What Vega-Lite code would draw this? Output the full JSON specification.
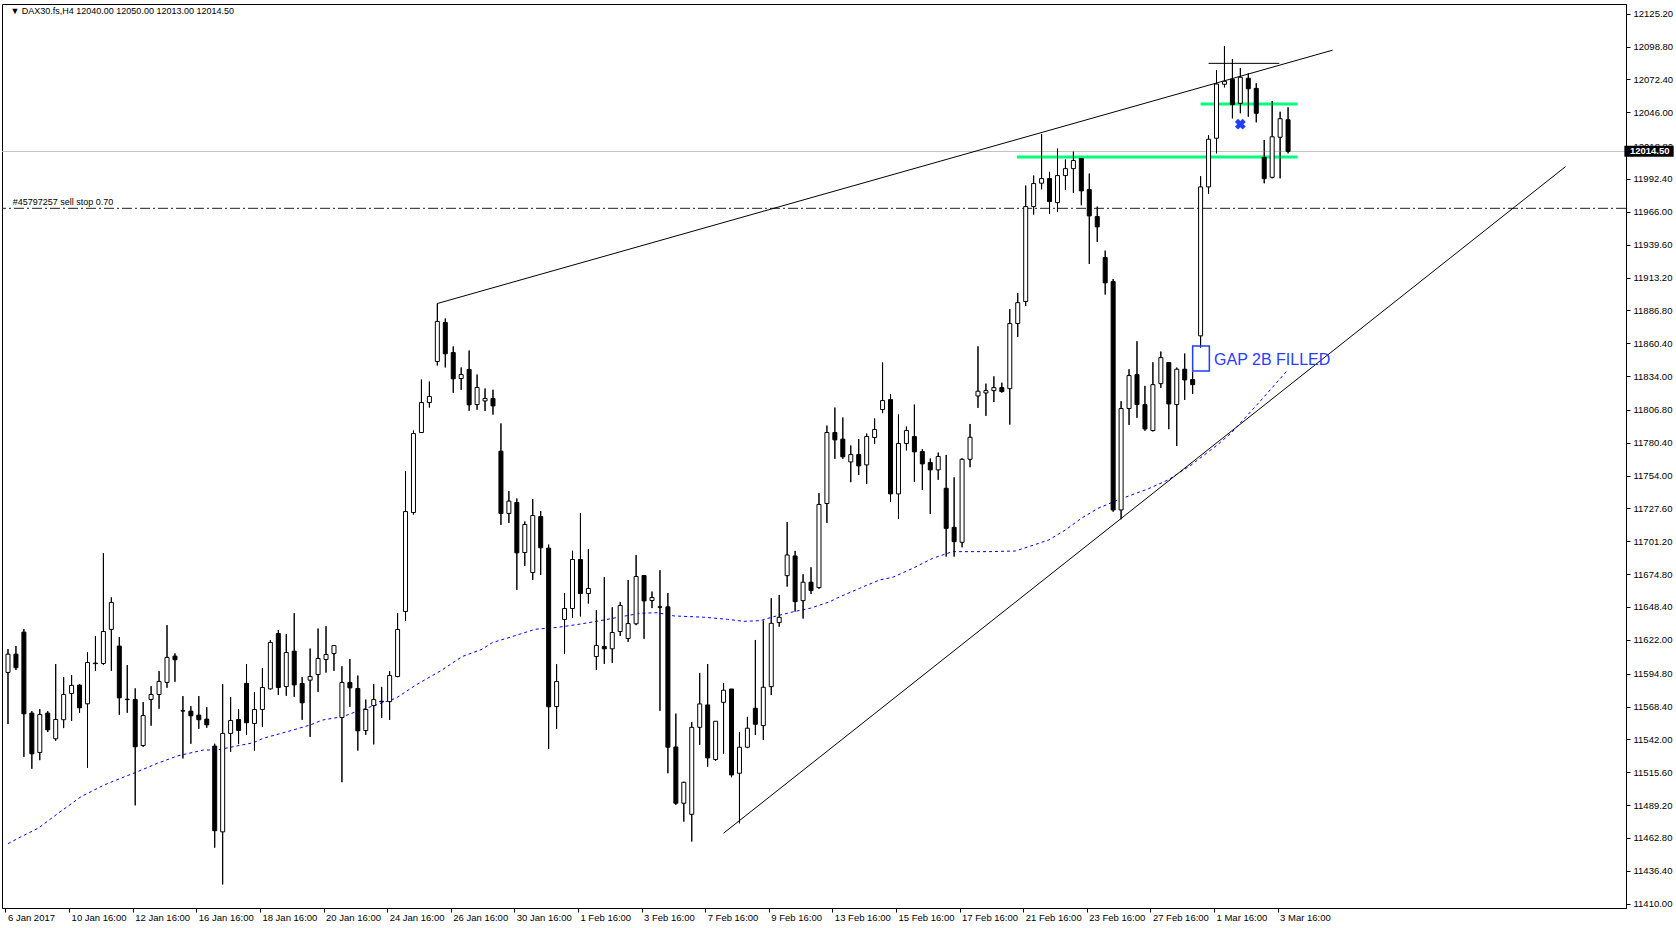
{
  "$schema": "https://vega.github.io/schema/vega-lite/v6.json",
  "width": 1624,
  "height": 904,
  "autosize": {"type": "none"},
  "padding": {"left": 2, "top": 4, "right": 50, "bottom": 20},
  "background": "#ffffff",
  "config": {
    "view": {"stroke": "#000000", "strokeWidth": 1},
    "axis": {"labelFont": "Liberation Sans", "labelFontSize": 9.5, "labelColor": "#000000", "domainColor": "#000000", "tickColor": "#000000", "grid": false, "labelOverlap": false, "labelBound": false}
  },
  "datasets": {
    "bars": [
      {"k":0,"o":11595.8,"h":11614.6,"l":11554.3,"c":11610.5},
      {"k":1,"o":11610.5,"h":11617.0,"l":11597.7,"c":11599.6},
      {"k":2,"o":11628.2,"h":11630.6,"l":11528.0,"c":11562.6},
      {"k":3,"o":11563.1,"h":11564.7,"l":11518.4,"c":11530.4},
      {"k":4,"o":11531.5,"h":11566.3,"l":11525.3,"c":11562.0},
      {"k":5,"o":11563.1,"h":11564.7,"l":11547.9,"c":11549.7},
      {"k":6,"o":11542.5,"h":11602.5,"l":11540.9,"c":11558.0},
      {"k":7,"o":11557.8,"h":11592.1,"l":11551.1,"c":11578.1},
      {"k":8,"o":11578.9,"h":11593.7,"l":11556.9,"c":11585.4},
      {"k":9,"o":11585.6,"h":11586.4,"l":11563.4,"c":11567.4},
      {"k":10,"o":11570.6,"h":11611.9,"l":11519.2,"c":11603.8},
      {"k":11,"o":11603.3,"h":11625.0,"l":11597.1,"c":11602.9},
      {"k":12,"o":11603.0,"h":11691.7,"l":11602.0,"c":11628.7},
      {"k":13,"o":11630.4,"h":11656.1,"l":11597.1,"c":11652.1},
      {"k":14,"o":11617.0,"h":11624.2,"l":11561.8,"c":11575.4},
      {"k":15,"o":11574.3,"h":11601.7,"l":11563.4,"c":11574.0},
      {"k":16,"o":11574.1,"h":11583.0,"l":11489.0,"c":11536.1},
      {"k":17,"o":11537.1,"h":11572.0,"l":11536.0,"c":11561.2},
      {"k":18,"o":11574.1,"h":11584.8,"l":11553.0,"c":11578.1},
      {"k":19,"o":11578.1,"h":11596.9,"l":11566.6,"c":11588.6},
      {"k":20,"o":11587.8,"h":11633.8,"l":11583.5,"c":11607.9},
      {"k":21,"o":11608.9,"h":11611.1,"l":11588.3,"c":11606.0},
      {"k":22,"o":11565.0,"h":11576.8,"l":11526.7,"c":11564.8},
      {"k":23,"o":11564.7,"h":11568.7,"l":11538.5,"c":11561.0},
      {"k":24,"o":11561.5,"h":11576.8,"l":11550.5,"c":11557.8},
      {"k":25,"o":11558.3,"h":11567.9,"l":11551.3,"c":11553.7},
      {"k":26,"o":11536.6,"h":11538.5,"l":11455.0,"c":11468.6},
      {"k":27,"o":11467.7,"h":11586.4,"l":11425.4,"c":11546.8},
      {"k":28,"o":11546.8,"h":11576.0,"l":11532.0,"c":11557.2},
      {"k":29,"o":11558.0,"h":11566.3,"l":11538.2,"c":11549.2},
      {"k":30,"o":11587.0,"h":11602.5,"l":11545.7,"c":11555.4},
      {"k":31,"o":11554.8,"h":11579.9,"l":11533.0,"c":11566.0},
      {"k":32,"o":11566.0,"h":11599.2,"l":11552.1,"c":11583.7},
      {"k":33,"o":11582.6,"h":11621.7,"l":11582.1,"c":11619.9},
      {"k":34,"o":11627.1,"h":11629.8,"l":11577.8,"c":11583.7},
      {"k":35,"o":11584.5,"h":11626.6,"l":11577.0,"c":11611.8},
      {"k":36,"o":11612.9,"h":11643.4,"l":11576.2,"c":11585.8},
      {"k":37,"o":11586.9,"h":11592.0,"l":11557.7,"c":11571.4},
      {"k":38,"o":11589.6,"h":11615.0,"l":11544.0,"c":11592.5},
      {"k":39,"o":11594.1,"h":11631.1,"l":11580.2,"c":11607.0},
      {"k":40,"o":11606.2,"h":11633.0,"l":11595.7,"c":11610.2},
      {"k":41,"o":11611.0,"h":11617.4,"l":11597.1,"c":11617.4},
      {"k":42,"o":11559.6,"h":11600.8,"l":11507.6,"c":11587.7},
      {"k":43,"o":11587.7,"h":11606.5,"l":11568.2,"c":11583.4},
      {"k":44,"o":11582.9,"h":11593.3,"l":11533.0,"c":11548.9},
      {"k":45,"o":11549.1,"h":11574.0,"l":11545.7,"c":11566.0},
      {"k":46,"o":11569.2,"h":11586.4,"l":11538.0,"c":11574.0},
      {"k":47,"o":11572.6,"h":11584.2,"l":11559.3,"c":11572.2},
      {"k":48,"o":11572.4,"h":11596.8,"l":11557.7,"c":11593.3},
      {"k":49,"o":11592.5,"h":11643.4,"l":11592.0,"c":11630.3},
      {"k":50,"o":11644.8,"h":11757.6,"l":11637.3,"c":11725.1},
      {"k":51,"o":11724.3,"h":11790.2,"l":11722.7,"c":11787.8},
      {"k":52,"o":11788.6,"h":11831.2,"l":11788.6,"c":11812.7},
      {"k":53,"o":11812.7,"h":11829.6,"l":11808.7,"c":11817.6},
      {"k":54,"o":11845.7,"h":11892.3,"l":11842.5,"c":11877.9},
      {"k":55,"o":11877.0,"h":11880.3,"l":11840.9,"c":11851.9},
      {"k":56,"o":11852.9,"h":11857.8,"l":11820.5,"c":11831.8},
      {"k":57,"o":11832.0,"h":11840.9,"l":11822.9,"c":11835.2},
      {"k":58,"o":11839.3,"h":11854.5,"l":11806.1,"c":11810.9},
      {"k":59,"o":11811.1,"h":11835.2,"l":11806.9,"c":11824.8},
      {"k":60,"o":11814.0,"h":11824.0,"l":11806.0,"c":11816.0},
      {"k":61,"o":11816.0,"h":11823.0,"l":11803.0,"c":11810.0},
      {"k":62,"o":11773.6,"h":11795.9,"l":11714.4,"c":11723.6},
      {"k":63,"o":11723.6,"h":11741.5,"l":11716.0,"c":11733.5},
      {"k":64,"o":11732.4,"h":11735.6,"l":11662.2,"c":11691.9},
      {"k":65,"o":11692.2,"h":11717.1,"l":11681.5,"c":11714.7},
      {"k":66,"o":11676.1,"h":11735.1,"l":11670.2,"c":11721.9},
      {"k":67,"o":11721.1,"h":11725.4,"l":11674.2,"c":11696.0},
      {"k":68,"o":11695.7,"h":11698.6,"l":11534.4,"c":11568.2},
      {"k":69,"o":11568.4,"h":11602.4,"l":11550.5,"c":11588.5},
      {"k":70,"o":11638.4,"h":11659.5,"l":11610.8,"c":11647.2},
      {"k":71,"o":11647.2,"h":11693.6,"l":11639.7,"c":11686.6},
      {"k":72,"o":11686.6,"h":11723.8,"l":11640.8,"c":11659.2},
      {"k":73,"o":11659.2,"h":11694.9,"l":11651.2,"c":11663.3},
      {"k":74,"o":11608.6,"h":11645.8,"l":11597.9,"c":11617.5},
      {"k":75,"o":11616.7,"h":11672.4,"l":11602.7,"c":11614.8},
      {"k":76,"o":11614.8,"h":11648.2,"l":11603.5,"c":11627.9},
      {"k":77,"o":11628.7,"h":11652.3,"l":11625.2,"c":11649.6},
      {"k":78,"o":11623.1,"h":11670.0,"l":11620.4,"c":11635.1},
      {"k":79,"o":11634.9,"h":11690.1,"l":11633.8,"c":11672.9},
      {"k":80,"o":11673.7,"h":11673.7,"l":11622.8,"c":11653.3},
      {"k":81,"o":11653.6,"h":11660.8,"l":11647.5,"c":11656.0},
      {"k":82,"o":11648.5,"h":11678.0,"l":11565.0,"c":11648.2},
      {"k":83,"o":11648.5,"h":11659.7,"l":11514.8,"c":11535.7},
      {"k":84,"o":11535.9,"h":11562.7,"l":11489.3,"c":11490.7},
      {"k":85,"o":11490.7,"h":11508.0,"l":11475.9,"c":11507.5},
      {"k":86,"o":11481.8,"h":11556.0,"l":11459.9,"c":11551.7},
      {"k":87,"o":11551.7,"h":11595.4,"l":11537.5,"c":11570.5},
      {"k":88,"o":11569.7,"h":11602.6,"l":11520.1,"c":11527.1},
      {"k":89,"o":11525.8,"h":11556.6,"l":11524.9,"c":11556.6},
      {"k":90,"o":11571.8,"h":11587.1,"l":11530.6,"c":11581.5},
      {"k":91,"o":11582.5,"h":11582.5,"l":11511.6,"c":11513.4},
      {"k":92,"o":11514.8,"h":11548.0,"l":11474.6,"c":11535.7},
      {"k":93,"o":11535.7,"h":11560.1,"l":11535.0,"c":11551.0},
      {"k":94,"o":11567.0,"h":11621.9,"l":11545.6,"c":11554.2},
      {"k":95,"o":11553.1,"h":11637.5,"l":11541.6,"c":11583.9},
      {"k":96,"o":11584.4,"h":11655.4,"l":11577.7,"c":11635.3},
      {"k":97,"o":11635.9,"h":11658.1,"l":11632.6,"c":11640.1},
      {"k":98,"o":11673.6,"h":11716.6,"l":11664.8,"c":11690.2},
      {"k":99,"o":11689.4,"h":11693.5,"l":11644.7,"c":11652.7},
      {"k":100,"o":11653.5,"h":11674.7,"l":11639.1,"c":11668.3},
      {"k":101,"o":11668.3,"h":11680.3,"l":11658.9,"c":11661.6},
      {"k":102,"o":11664.0,"h":11739.9,"l":11663.0,"c":11730.8},
      {"k":103,"o":11731.6,"h":11794.2,"l":11716.0,"c":11788.6},
      {"k":104,"o":11788.6,"h":11808.7,"l":11767.5,"c":11782.7},
      {"k":105,"o":11783.3,"h":11800.7,"l":11767.5,"c":11769.1},
      {"k":106,"o":11765.0,"h":11778.2,"l":11748.7,"c":11770.9},
      {"k":107,"o":11770.9,"h":11783.3,"l":11754.6,"c":11761.8},
      {"k":108,"o":11762.6,"h":11787.8,"l":11747.4,"c":11785.4},
      {"k":109,"o":11784.6,"h":11799.9,"l":11779.5,"c":11791.0},
      {"k":110,"o":11807.1,"h":11844.9,"l":11804.2,"c":11814.3},
      {"k":111,"o":11815.1,"h":11819.4,"l":11732.9,"c":11739.3},
      {"k":112,"o":11739.3,"h":11803.1,"l":11719.2,"c":11779.8},
      {"k":113,"o":11779.8,"h":11793.4,"l":11774.2,"c":11790.2},
      {"k":114,"o":11785.4,"h":11811.1,"l":11749.0,"c":11773.1},
      {"k":115,"o":11773.3,"h":11775.2,"l":11742.5,"c":11763.4},
      {"k":116,"o":11764.5,"h":11767.7,"l":11723.2,"c":11758.6},
      {"k":117,"o":11758.6,"h":11772.5,"l":11750.6,"c":11769.3},
      {"k":118,"o":11743.8,"h":11770.6,"l":11688.9,"c":11711.6},
      {"k":119,"o":11712.4,"h":11752.6,"l":11688.9,"c":11700.9},
      {"k":120,"o":11700.4,"h":11767.9,"l":11696.4,"c":11767.1},
      {"k":121,"o":11767.1,"h":11795.5,"l":11760.7,"c":11784.8},
      {"k":122,"o":11818.0,"h":11857.9,"l":11808.4,"c":11821.8},
      {"k":123,"o":11820.4,"h":11827.9,"l":11802.0,"c":11822.3},
      {"k":124,"o":11822.3,"h":11833.8,"l":11813.2,"c":11824.7},
      {"k":125,"o":11824.7,"h":11828.7,"l":11820.7,"c":11821.5},
      {"k":126,"o":11823.9,"h":11887.7,"l":11795.0,"c":11876.2},
      {"k":127,"o":11876.2,"h":11900.8,"l":11865.4,"c":11893.0},
      {"k":128,"o":11893.9,"h":11987.1,"l":11890.4,"c":11970.2},
      {"k":129,"o":11970.2,"h":11995.1,"l":11963.8,"c":11988.7},
      {"k":130,"o":11989.0,"h":12028.6,"l":11984.1,"c":11992.7},
      {"k":131,"o":11992.7,"h":11998.1,"l":11964.3,"c":11974.2},
      {"k":132,"o":11973.4,"h":12016.8,"l":11965.9,"c":11995.1},
      {"k":133,"o":11995.1,"h":12008.0,"l":11983.6,"c":12000.7},
      {"k":134,"o":12000.7,"h":12014.4,"l":11981.2,"c":12007.2},
      {"k":135,"o":12008.8,"h":12008.8,"l":11971.3,"c":11982.8},
      {"k":136,"o":11983.9,"h":11996.7,"l":11924.1,"c":11962.7},
      {"k":137,"o":11962.2,"h":11970.2,"l":11941.8,"c":11953.9},
      {"k":138,"o":11929.2,"h":11934.8,"l":11899.5,"c":11908.9},
      {"k":139,"o":11909.9,"h":11912.0,"l":11725.0,"c":11726.4},
      {"k":140,"o":11726.4,"h":11813.8,"l":11718.9,"c":11807.9},
      {"k":141,"o":11807.9,"h":11839.5,"l":11794.7,"c":11834.4},
      {"k":142,"o":11835.2,"h":11862.0,"l":11800.4,"c":11811.1},
      {"k":143,"o":11811.1,"h":11826.1,"l":11790.0,"c":11791.5},
      {"k":144,"o":11790.2,"h":11845.1,"l":11789.5,"c":11827.1},
      {"k":145,"o":11827.9,"h":11853.7,"l":11824.5,"c":11848.8},
      {"k":146,"o":11844.8,"h":11844.8,"l":11791.3,"c":11811.6},
      {"k":147,"o":11811.1,"h":11840.8,"l":11777.8,"c":11839.5},
      {"k":148,"o":11839.5,"h":11852.1,"l":11814.8,"c":11830.9},
      {"k":149,"o":11831.2,"h":11837.3,"l":11819.6,"c":11827.1},
      {"k":150,"o":11866.3,"h":11994.6,"l":11856.9,"c":11986.0},
      {"k":151,"o":11986.0,"h":12027.5,"l":11980.6,"c":12024.3},
      {"k":152,"o":12025.1,"h":12079.9,"l":12013.0,"c":12068.7},
      {"k":153,"o":12068.5,"h":12099.2,"l":12066.0,"c":12070.9},
      {"k":154,"o":12072.5,"h":12088.8,"l":12041.1,"c":12052.1},
      {"k":155,"o":12053.2,"h":12081.6,"l":12045.2,"c":12074.1},
      {"k":156,"o":12073.3,"h":12077.3,"l":12042.4,"c":12064.9},
      {"k":157,"o":12065.2,"h":12069.3,"l":12037.9,"c":12045.2},
      {"k":158,"o":12009.8,"h":12023.7,"l":11988.9,"c":11992.6},
      {"k":159,"o":11993.7,"h":12055.0,"l":11992.9,"c":12026.3},
      {"k":160,"o":12025.9,"h":12046.4,"l":11992.9,"c":12040.8},
      {"k":161,"o":12040.0,"h":12050.0,"l":12013.0,"c":12014.5}
    ],
    "ma": [
      {"k":0.0,"v":11458.2},{"k":1.5,"v":11463.3},{"k":3.8,"v":11470.6},{"k":6.3,"v":11482.6},
      {"k":9.2,"v":11496.0},{"k":12.1,"v":11505.4},{"k":14.2,"v":11510.8},{"k":16.3,"v":11516.1},
      {"k":18.8,"v":11522.8},{"k":21.3,"v":11528.7},{"k":24.6,"v":11533.5},{"k":26.3,"v":11533.5},
      {"k":28.0,"v":11535.7},{"k":30.9,"v":11539.4},{"k":32.1,"v":11542.9},{"k":35.9,"v":11549.6},
      {"k":38.0,"v":11553.6},{"k":39.6,"v":11557.6},{"k":42.1,"v":11560.3},{"k":43.8,"v":11564.3},
      {"k":46.3,"v":11569.7},{"k":48.8,"v":11575.1},{"k":51.3,"v":11585.7},{"k":54.6,"v":11597.8},
      {"k":57.1,"v":11608.5},{"k":59.6,"v":11614.4},{"k":60.9,"v":11619.7},{"k":63.4,"v":11624.6},
      {"k":66.3,"v":11630.5},{"k":69.2,"v":11632.1},{"k":72.1,"v":11634.8},{"k":75.0,"v":11638.0},
      {"k":77.1,"v":11640.6},{"k":79.6,"v":11643.4},{"k":81.7,"v":11643.8},{"k":83.8,"v":11641.2},
      {"k":87.5,"v":11640.2},{"k":90.5,"v":11638.5},{"k":92.5,"v":11636.9},{"k":94.6,"v":11637.4},
      {"k":96.3,"v":11640.6},{"k":98.8,"v":11644.6},{"k":100.9,"v":11647.4},{"k":103.4,"v":11652.7},
      {"k":104.2,"v":11655.4},{"k":107.1,"v":11663.4},{"k":109.6,"v":11670.1},{"k":111.3,"v":11672.3},
      {"k":113.8,"v":11679.5},{"k":116.3,"v":11687.5},{"k":118.8,"v":11692.9},{"k":123.4,"v":11692.9},
      {"k":126.7,"v":11693.4},{"k":128.4,"v":11696.9},{"k":130.9,"v":11702.3},{"k":133.0,"v":11710.3},
      {"k":135.0,"v":11719.7},{"k":137.1,"v":11727.7},{"k":139.6,"v":11734.4},{"k":142.1,"v":11740.3},
      {"k":143.4,"v":11743.3},{"k":145.9,"v":11750.5},{"k":148.8,"v":11762.5},{"k":152.1,"v":11778.6},
      {"k":153.9,"v":11788.6},{"k":157.2,"v":11811.7},{"k":160.9,"v":11838.4}
    ]
  },
  "layer": [
    {
      "data": {"name": "bars"},
      "mark": {"type": "rule", "color": "#000000", "strokeWidth": 1},
      "encoding": {
        "x": {
          "field": "k", "type": "quantitative", "title": null,
          "scale": {"domain": [-0.125, 202.875], "nice": false, "zero": false},
          "axis": {
            "orient": "bottom",
            "values": [0, 8, 16, 24, 32, 40, 48, 56, 64, 72, 80, 88, 96, 104, 112, 120, 128, 136, 144, 152, 160],
            "tickCount": 60,
            "labelExpr": "['6 Jan 2017','10 Jan 16:00','12 Jan 16:00','16 Jan 16:00','18 Jan 16:00','20 Jan 16:00','24 Jan 16:00','26 Jan 16:00','30 Jan 16:00','1 Feb 16:00','3 Feb 16:00','7 Feb 16:00','9 Feb 16:00','13 Feb 16:00','15 Feb 16:00','17 Feb 16:00','21 Feb 16:00','23 Feb 16:00','27 Feb 16:00','1 Mar 16:00','3 Mar 16:00'][round(datum.value / 8)]",
            "labelAlign": "left",
            "labelBaseline": "top",
            "labelFlush": false,
            "labelOverlap": false,
            "tickOffset": -2.5,
            "labelOffset": 2,
            "tickSize": 4,
            "labelPadding": 0
          }
        },
        "y": {
          "field": "l", "type": "quantitative", "title": null,
          "scale": {"domain": [11406.5, 12133.0], "nice": false, "zero": false},
          "axis": {
            "orient": "right",
            "values": [12125.2, 12098.8, 12072.4, 12046.0, 12018.8, 11992.4, 11966.0, 11939.6, 11913.2, 11886.8, 11860.4, 11834.0, 11806.8, 11780.4, 11754.0, 11727.6, 11701.2, 11674.8, 11648.4, 11622.0, 11594.8, 11568.4, 11542.0, 11515.6, 11489.2, 11462.8, 11436.4, 11410.0],
            "tickCount": 60,
            "format": ".2f",
            "tickSize": 4,
            "labelPadding": 3,
            "labelBaseline": "middle",
            "labelOverlap": false
          }
        },
        "y2": {"field": "h"}
      }
    },
    {
      "data": {"values": [{"p": 12014.5}]},
      "mark": {"type": "rule", "color": "#c0c0c0", "strokeWidth": 1},
      "encoding": {"y": {"field": "p", "type": "quantitative", "title": null}}
    },
    {
      "data": {"values": [{"p": 11968.8}]},
      "mark": {"type": "rule", "color": "#222222", "strokeWidth": 1, "strokeDash": [10, 3, 2, 3]},
      "encoding": {"y": {"field": "p", "type": "quantitative", "title": null}}
    },
    {
      "data": {"name": "ma"},
      "mark": {"type": "line", "color": "#0000ff", "strokeWidth": 1, "strokeDash": [3, 3]},
      "encoding": {
        "x": {"field": "k", "type": "quantitative", "title": null},
        "y": {"field": "v", "type": "quantitative", "title": null}
      }
    },
    {
      "data": {"values": [
        {"k1": 54, "p1": 11892.3, "k2": 166.6, "p2": 12095.9},
        {"k1": 90, "p1": 11466.6, "k2": 195.9, "p2": 12002.3},
        {"k1": 151.0, "p1": 12085.3, "k2": 159.9, "p2": 12085.3}
      ]},
      "mark": {"type": "rule", "color": "#000000", "strokeWidth": 1},
      "encoding": {
        "x": {"field": "k1", "type": "quantitative", "title": null},
        "x2": {"field": "k2"},
        "y": {"field": "p1", "type": "quantitative", "title": null},
        "y2": {"field": "p2"}
      }
    },
    {
      "data": {"values": [
        {"k1": 126.9, "k2": 162.2, "p": 12010.0},
        {"k1": 150.0, "k2": 162.2, "p": 12052.6}
      ]},
      "mark": {"type": "rule", "color": "#00ff7f", "strokeWidth": 3},
      "encoding": {
        "x": {"field": "k1", "type": "quantitative", "title": null},
        "x2": {"field": "k2"},
        "y": {"field": "p", "type": "quantitative", "title": null}
      }
    },
    {
      "data": {"name": "bars"},
      "mark": {"type": "rule", "color": "#000000", "strokeWidth": 1},
      "encoding": {
        "x": {"field": "k", "type": "quantitative", "title": null},
        "y": {"field": "l", "type": "quantitative", "title": null},
        "y2": {"field": "h"}
      }
    },
    {
      "data": {"name": "bars"},
      "mark": {"type": "bar", "size": 4, "stroke": "#000000", "strokeWidth": 1},
      "encoding": {
        "x": {"field": "k", "type": "quantitative", "title": null},
        "y": {"field": "o", "type": "quantitative", "title": null},
        "y2": {"field": "c"},
        "fill": {"condition": {"test": "datum.c < datum.o", "value": "#000000"}, "value": "#ffffff"}
      }
    },
    {
      "data": {"values": [{"k1": 149.0, "k2": 151.1, "p1": 11838.1, "p2": 11858.2}]},
      "mark": {"type": "rect", "fill": null, "fillOpacity": 0, "stroke": "#1f3fff", "strokeWidth": 1.5},
      "encoding": {
        "x": {"field": "k1", "type": "quantitative", "title": null},
        "x2": {"field": "k2"},
        "y": {"field": "p1", "type": "quantitative", "title": null},
        "y2": {"field": "p2"}
      }
    },
    {
      "data": {"values": [{"k": 155.0, "p": 12036.4}]},
      "mark": {"type": "point", "shape": "cross", "angle": 45, "filled": true, "size": 120, "color": "#1f3fff", "opacity": 1},
      "encoding": {
        "x": {"field": "k", "type": "quantitative", "title": null},
        "y": {"field": "p", "type": "quantitative", "title": null}
      }
    },
    {
      "data": {"values": [{"k": 151.7, "p": 11846.9, "t": "GAP 2B FILLED"}]},
      "mark": {"type": "text", "align": "left", "baseline": "middle", "font": "Liberation Sans", "fontSize": 16, "color": "#2a3cff"},
      "encoding": {
        "x": {"field": "k", "type": "quantitative", "title": null},
        "y": {"field": "p", "type": "quantitative", "title": null},
        "text": {"field": "t"}
      }
    },
    {
      "data": {"values": [
        {"k": 0.3, "p": 12127.6, "t": "▼ DAX30.fs,H4  12040.00 12050.00 12013.00 12014.50"},
        {"k": 0.6, "p": 11974.0, "t": "#45797257 sell stop 0.70"}
      ]},
      "mark": {"type": "text", "align": "left", "baseline": "middle", "font": "Liberation Sans", "fontSize": 9, "color": "#000000"},
      "encoding": {
        "x": {"field": "k", "type": "quantitative", "title": null},
        "y": {"field": "p", "type": "quantitative", "title": null},
        "text": {"field": "t"}
      }
    },
    {
      "data": {"values": [{"k1": 203.3, "k2": 209.5, "p1": 12010.2, "p2": 12019.0}]},
      "mark": {"type": "rect", "fill": "#000000"},
      "encoding": {
        "x": {"field": "k1", "type": "quantitative", "title": null},
        "x2": {"field": "k2"},
        "y": {"field": "p1", "type": "quantitative", "title": null},
        "y2": {"field": "p2"}
      }
    },
    {
      "data": {"values": [{"k": 204.0, "p": 12014.5, "t": "12014.50"}]},
      "mark": {"type": "text", "align": "left", "baseline": "middle", "font": "Liberation Sans", "fontSize": 9.5, "fontWeight": "bold", "color": "#ffffff"},
      "encoding": {
        "x": {"field": "k", "type": "quantitative", "title": null},
        "y": {"field": "p", "type": "quantitative", "title": null},
        "text": {"field": "t"}
      }
    }
  ]
}
